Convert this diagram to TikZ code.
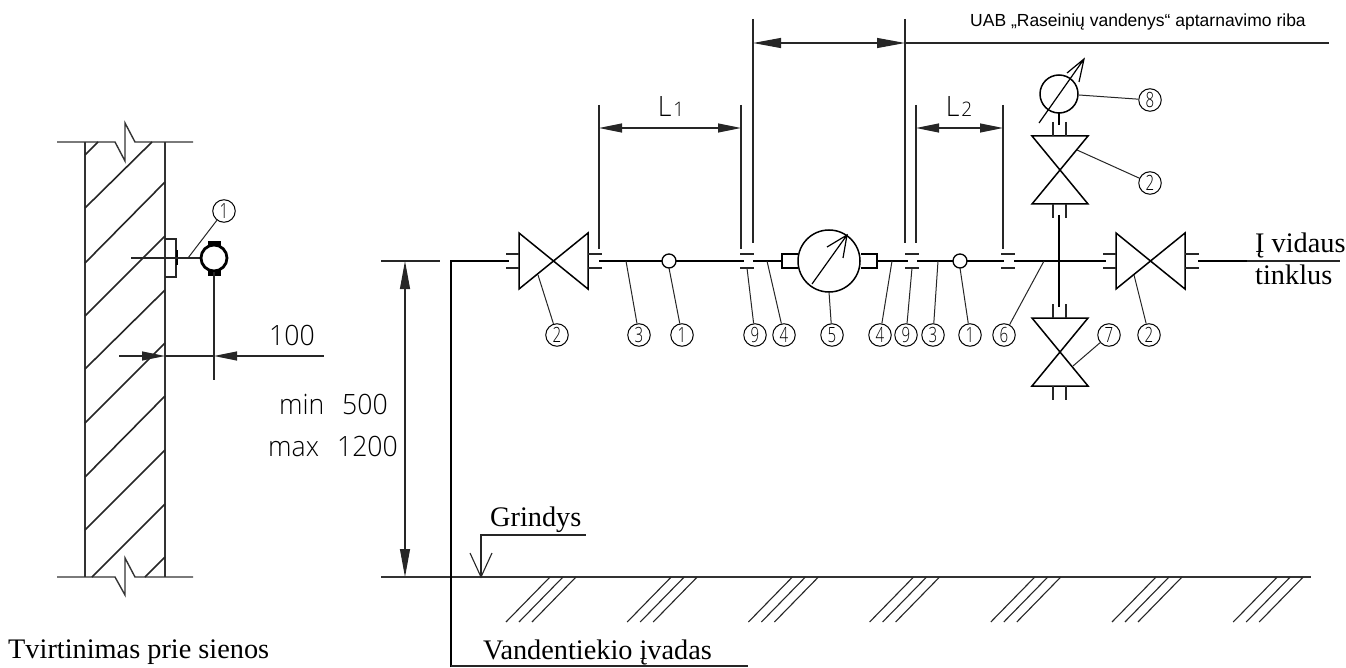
\documentclass[tikz,border=0pt]{standalone}
\usepackage{fontspec}
\usetikzlibrary{arrows.meta}
\setmainfont{Liberation Serif}
\newfontfamily\uisans{Liberation Sans}
\newfontfamily\cadfont[FakeStretch=0.95]{Open Sans Light}
\newfontfamily\cadnarrow[FakeStretch=0.72]{Open Sans Light}
\tikzset{
  x=1pt,y=-1pt,
  thinln/.style={line width=1.1pt,black!85},
  wallln/.style={line width=1.4pt,black!80},
  hatchln/.style={line width=1.6pt,black!85},
  flange/.style={line width=1.2pt,black!85},
  valveln/.style={line width=1.5pt,black},
  pipe/.style={line width=2.8pt,black},
  lead/.style={line width=1pt,black!85},
  num/.style={circle,draw,line width=1pt,inner sep=0pt,minimum size=22.5pt,font=\cadnarrow\fontsize{21}{21}\selectfont},
  dimbig/.style={line width=1.1pt,black!85,{Triangle[length=28pt,width=10pt]}-{Triangle[length=28pt,width=10pt]}},
  dimmid/.style={line width=1.1pt,black!85,{Triangle[length=23pt,width=9pt]}-{Triangle[length=23pt,width=9pt]}},
  cad/.style={inner sep=0pt,font=\cadfont\fontsize{28}{28}\selectfont},
  serif/.style={inner sep=0pt,anchor=base west,font=\fontsize{28.3}{28.3}\selectfont},
}
\begin{document}
\begin{tikzpicture}
\useasboundingbox (0,0) rectangle (1346,668);
\fill[white] (0,0) rectangle (1346,668);

% ---- wall section ----
\draw[wallln] (85,142) -- (85,577) (165,142) -- (165,577);
\draw[wallln] (57,142) -- (115,142) -- (125,161) -- (125,123) -- (135,142) -- (193,142);
\draw[wallln] (57,577) -- (115,577) -- (125,595) -- (125,558) -- (135,577) -- (193,577);
\draw[hatchln] (85,155) -- (98,142)
  (85,208) -- (152,142)
  (85,263) -- (165,182)
  (85,316) -- (165,236)
  (85,369) -- (165,290)
  (165,343) -- (85,423)
  (85,477) -- (165,396)
  (85,530) -- (165,450)
  (92,577) -- (165,504)
  (145,577) -- (165,557);
\draw[thinln] (165,239) -- (176,239) -- (176,277) -- (165,277);
\draw[line width=1.8pt] (177,250) -- (177,265);
\draw[thinln] (131,258) -- (201,258);
\fill (208,241) rectangle (221,246);
\fill (208,270) rectangle (221,276);
\node[circle,draw,line width=2.8pt,fill=white,minimum size=26pt,inner sep=0pt] (wallpipe) at (214,258) {};
\coordinate (wallfoot) at (214,380);
\draw[thinln] (wallpipe.south) -- (wallfoot);
\node[num] (n1w) at (224,211) {1};
\coordinate (l1w) at (188,258);
\draw[lead] (l1w) -- (n1w);
\coordinate (d100a) at (119,356);
\coordinate (d100b) at (165,356);
\coordinate (d100c) at (214,356);
\coordinate (d100d) at (324,356);
\draw[thinln,-{Triangle[length=23pt,width=9pt]}] (d100a) -- (d100b);
\draw[thinln,{Triangle[length=23pt,width=9pt]}-] (d100c) -- (d100d);
\draw[thinln] (d100b) -- (d100c);
\node[cad] (t100) at (292,335) {100};

% ---- height dimension ----
\node[cad,anchor=base east] (tmin) at (388,414) {min\hspace{18pt}500};
\node[cad,anchor=base east] (tmax) at (398,456) {max\hspace{18pt}1200};
\coordinate (hta) at (381,261);
\coordinate (htb) at (440,261);
\coordinate (dha) at (405,261);
\coordinate (dhb) at (405,577);
\draw[thinln] (hta) -- (htb);
\draw[dimbig] (dha) -- (dhb);

% ---- floor ----
\coordinate (fla) at (381,577);
\coordinate (flb) at (1311,577);
\draw[wallln] (fla) -- (flb);
\foreach \g in {0,...,6}
  \foreach \k in {0,1,2}
    \draw[thinln] ({550+121.2*\g+13*\k},577) -- ({506+121.2*\g+13*\k},622);
\coordinate (gra) at (481,577);
\coordinate (grb) at (481,535);
\coordinate (grc) at (586,535);
\draw[thinln] (gra) -- (grb) -- (grc);
\draw[thinln] (470,553) -- (gra) -- (492,553);
\node[serif] (tgr) at (490,526) {Grindys};

% ---- inlet pipe ----
\coordinate (pa) at (451,667);
\coordinate (pb) at (451,261);
\coordinate (pc) at (509,261);
\draw[pipe] (pa) -- (pb) -- (pc);
\coordinate (pd) at (748,666);
\draw[thinln] (451,666) -- (pd);
\node[serif] (tvan) at (483,659) {Vandentiekio įvadas};

% ---- main line pipe runs ----
\draw[pipe] (599,261) -- (662,261) (676,261) -- (744,261) (753,261) -- (782,261)
  (877,261) -- (908,261) (917,261) -- (953,261) (967,261) -- (1004,261) (1014,261) -- (1106,261)
  (1198,261) -- (1247,261);
\draw[pipe] (1059,215) -- (1059,307);
\coordinate (tail) at (1340,261);
\draw[thinln] (1247,261) -- (tail);
\node[serif] at (1255,253) {Į vidaus};
\node[serif] at (1255,284) {tinklus};

% valves, horizontal
\foreach \cx in {554,1151} {
  \draw[valveln,line join=miter] ({\cx-35},233) -- ({\cx-35},289) -- ({\cx+34},233) -- ({\cx+34},289) -- cycle;
  \draw[flange] ({\cx-48},254) -- ({\cx-35},254) ({\cx-48},268) -- ({\cx-35},268)
    ({\cx+34},254) -- ({\cx+48},254) ({\cx+34},268) -- ({\cx+48},268);
}
% unions
\foreach \cx in {747,912,1008} {
  \draw[flange] ({\cx-7},254) -- ({\cx+7},254) ({\cx-7},268) -- ({\cx+7},268);
}
% small nodes on line
\node[circle,draw,line width=1.3pt,fill=white,minimum size=14pt,inner sep=0pt] (p1) at (669,261) {};
\node[circle,draw,line width=1.3pt,fill=white,minimum size=14pt,inner sep=0pt] (p2) at (960,261) {};

% water meter
\draw[line width=2.2pt] (798,254) -- (782,254) -- (782,268) -- (798,268);
\draw[line width=2.2pt] (861,254) -- (877,254) -- (877,268) -- (861,268);
\node[circle,draw,line width=1.5pt,fill=white,minimum size=62pt,inner sep=0pt] (meter) at (829,261) {};
\coordinate (ma) at (812,284);
\coordinate (mb) at (847,235);
\draw[line width=1.2pt] (ma) -- (mb) (827,247) -- (mb) -- (843,258);

% vertical valves
\draw[valveln] (1032,136) -- (1088,136) -- (1032,204) -- (1088,204) -- cycle;
\draw[flange] (1053,122) -- (1053,136) (1066,122) -- (1066,136)
   (1053,204) -- (1053,218) (1066,204) -- (1066,218);
\draw[valveln] (1032,318) -- (1088,318) -- (1032,386) -- (1088,386) -- cycle;
\draw[flange] (1053,304) -- (1053,318) (1066,304) -- (1066,318)
   (1053,386) -- (1053,400) (1066,386) -- (1066,400);

% gauge
\draw[pipe] (1059,113) -- (1059,125);
\node[circle,draw,line width=1.5pt,fill=white,minimum size=38pt,inner sep=0pt] (gauge) at (1059,94) {};
\coordinate (ga) at (1039,123);
\coordinate (gb) at (1084,59);
\draw[line width=1.2pt] (ga) -- (gb) (1067,73) -- (gb) -- (1079,82);

% ---- numbered callouts ----
\node[num] (c2a) at (557,335) {2};
\node[num] (c3a) at (639,335) {3};
\node[num] (c1a) at (682,335) {1};
\node[num] (c9a) at (755,335) {9};
\node[num] (c4a) at (784,335) {4};
\node[num] (c5)  at (832,335) {5};
\node[num] (c4b) at (880,335) {4};
\node[num] (c9b) at (906,335) {9};
\node[num] (c3b) at (933,335) {3};
\node[num] (c1b) at (970,335) {1};
\node[num] (c6)  at (1004,335) {6};
\node[num] (c7)  at (1109,335) {7};
\node[num] (c2b) at (1149,335) {2};
\node[num] (c8)  at (1150,100) {8};
\node[num] (c2c) at (1150,183) {2};
\foreach \xx/\yy/\tgt in {538/275/c2a,626/261/c3a,669/268/c1a,747/268/c9a,767/261/c4a,829/292/c5,892/261/c4b,912/268/c9b,938/261/c3b,960/268/c1b,1044/261/c6,1073/366/c7,1134/275/c2b,1079/95/c8,1077/150/c2c}
  \draw[lead] (\xx,\yy) -- (\tgt);

% ---- top dimensions ----
\coordinate (e1a) at (599,105); \coordinate (e1b) at (599,249);
\coordinate (e2a) at (741,105); \coordinate (e2b) at (741,249);
\coordinate (e3a) at (753,19);  \coordinate (e3b) at (753,243);
\coordinate (e4a) at (905,19);  \coordinate (e4b) at (905,243);
\coordinate (e5a) at (916,105); \coordinate (e5b) at (916,243);
\coordinate (e6a) at (1003,105);\coordinate (e6b) at (1003,249);
\draw[thinln] (e1a) -- (e1b) (e2a) -- (e2b) (e3a) -- (e3b) (e4a) -- (e4b) (e5a) -- (e5b) (e6a) -- (e6b);
\draw[dimmid] (599,128) -- (741,128);
\draw[dimmid] (916,128) -- (1003,128);
\draw[dimbig] (753,43) -- (905,43);
\coordinate (rib) at (1329,43);
\draw[thinln] (905,43) -- (rib);
\node[cad,anchor=base] (tl1) at (671,117) {L\fontsize{20}{20}\selectfont\hspace{2pt}1};
\node[cad,anchor=base] (tl2) at (959,117) {L\fontsize{20}{20}\selectfont\hspace{2pt}2};
\node[inner sep=0pt,anchor=base west,font=\uisans\fontsize{17.5}{17.5}\selectfont] (tuab) at (970,27) {UAB „Raseinių vandenys“ aptarnavimo riba};
\node[serif] (ttv) at (8,658) {Tvirtinimas prie sienos};
\end{tikzpicture}
\end{document}
